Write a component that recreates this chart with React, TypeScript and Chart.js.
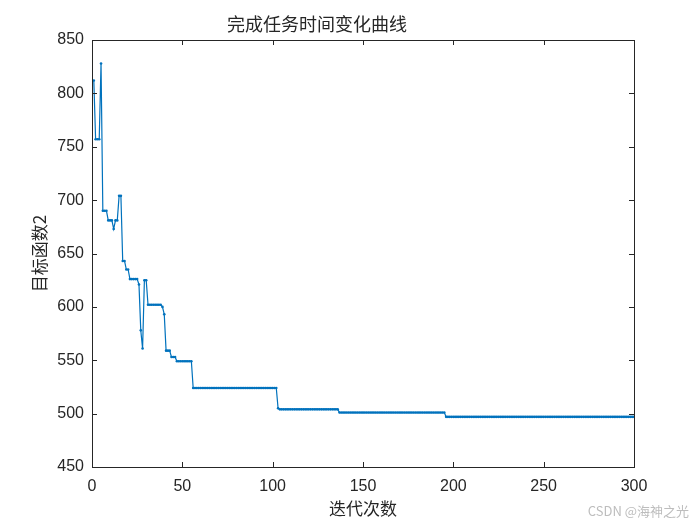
import React, { useEffect, useRef } from 'react';
import { Chart, registerables } from 'chart.js';

Chart.register(...registerables);

const titleText = '完成任务时间变化曲线';
const xLabel = '迭代次数';
const yLabel = '目标函数2';
const watermark = 'CSDN @海神之光';

const xTicks = [0, 50, 100, 150, 200, 250, 300];
const yTicks = [450, 500, 550, 600, 650, 700, 750, 800, 850];

// objective value per iteration (1..300)
const objective2 = [
    812, 757, 757, 757, 828, 690, 690, 690, 681, 681,
    681, 673, 681, 681, 704, 704, 643, 643, 635, 635,
    626, 626, 626, 626, 626, 621, 578, 561, 625, 625,
    602, 602, 602, 602, 602, 602, 602, 602, 600, 593,
    559, 559, 559, 553, 553, 553, 549, 549, 549, 549,
    549, 549, 549, 549, 549, 524, 524, 524, 524, 524,
    524, 524, 524, 524, 524, 524, 524, 524, 524, 524,
    524, 524, 524, 524, 524, 524, 524, 524, 524, 524,
    524, 524, 524, 524, 524, 524, 524, 524, 524, 524,
    524, 524, 524, 524, 524, 524, 524, 524, 524, 524,
    524, 524, 505, 504, 504, 504, 504, 504, 504, 504,
    504, 504, 504, 504, 504, 504, 504, 504, 504, 504,
    504, 504, 504, 504, 504, 504, 504, 504, 504, 504,
    504, 504, 504, 504, 504, 504, 501, 501, 501, 501,
    501, 501, 501, 501, 501, 501, 501, 501, 501, 501,
    501, 501, 501, 501, 501, 501, 501, 501, 501, 501,
    501, 501, 501, 501, 501, 501, 501, 501, 501, 501,
    501, 501, 501, 501, 501, 501, 501, 501, 501, 501,
    501, 501, 501, 501, 501, 501, 501, 501, 501, 501,
    501, 501, 501, 501, 501, 497, 497, 497, 497, 497,
    497, 497, 497, 497, 497, 497, 497, 497, 497, 497,
    497, 497, 497, 497, 497, 497, 497, 497, 497, 497,
    497, 497, 497, 497, 497, 497, 497, 497, 497, 497,
    497, 497, 497, 497, 497, 497, 497, 497, 497, 497,
    497, 497, 497, 497, 497, 497, 497, 497, 497, 497,
    497, 497, 497, 497, 497, 497, 497, 497, 497, 497,
    497, 497, 497, 497, 497, 497, 497, 497, 497, 497,
    497, 497, 497, 497, 497, 497, 497, 497, 497, 497,
    497, 497, 497, 497, 497, 497, 497, 497, 497, 497,
    497, 497, 497, 497, 497, 497, 497, 497, 497, 497,
];

const axisColor = '#262626';
const tickFont = '"Liberation Sans", Arial, sans-serif';
const cjkFont = '"Noto Sans CJK SC", sans-serif';

// matlab style box with inward ticks on all four sides
const boxPlugin = {
    id: 'matlabBox',
    afterDraw(chart: any) {
        const { ctx, chartArea } = chart;
        const { left, top, right, bottom } = chartArea;
        const len = 5;
        ctx.save();
        ctx.strokeStyle = axisColor;
        ctx.lineWidth = 1;
        ctx.strokeRect(Math.round(left) + 0.5, Math.round(top) + 0.5, Math.round(right - left), Math.round(bottom - top));
        ctx.beginPath();
        xTicks.forEach((v) => {
            const px = Math.round(chart.scales.x.getPixelForValue(v)) + 0.5;
            ctx.moveTo(px, bottom);
            ctx.lineTo(px, bottom - len);
            ctx.moveTo(px, top);
            ctx.lineTo(px, top + len);
        });
        yTicks.forEach((v) => {
            const py = Math.round(chart.scales.y.getPixelForValue(v)) + 0.5;
            ctx.moveTo(left, py);
            ctx.lineTo(left + len, py);
            ctx.moveTo(right, py);
            ctx.lineTo(right - len, py);
        });
        ctx.stroke();

        ctx.font = `13px ${cjkFont}`;
        ctx.fillStyle = '#bdbdbd';
        ctx.textAlign = 'right';
        ctx.textBaseline = 'middle';
        ctx.fillText(watermark, 689, 511);
        ctx.restore();
    },
};

const App: React.FC = () => {
    const canvasRef = useRef<HTMLCanvasElement>(null);

    useEffect(() => {
        if (!canvasRef.current) return;
        const ctx = canvasRef.current.getContext('2d');
        if (!ctx) return;

        const points = objective2.map((v, i) => ({ x: i + 1, y: v }));

        const chart = new Chart(ctx, {
            type: 'line',
            data: {
                datasets: [{
                    label: yLabel,
                    data: points,
                    borderColor: '#0072BD',
                    backgroundColor: '#0072BD',
                    borderWidth: 1.2,
                    pointRadius: 1.3,
                    pointBorderWidth: 0,
                    pointBackgroundColor: '#0072BD',
                    tension: 0,
                    fill: false,
                }]
            },
            options: {
                animation: false,
                responsive: false,
                maintainAspectRatio: false,
                devicePixelRatio: 1,
                layout: { padding: { left: 0, right: 66, top: 0, bottom: 0 } },
                plugins: {
                    legend: { display: false },
                    tooltip: { enabled: false },
                    title: {
                        display: true,
                        text: titleText,
                        color: axisColor,
                        font: { family: cjkFont, size: 18, weight: 'normal' },
                        padding: { top: 13, bottom: 5.4 },
                    },
                },
                scales: {
                    x: {
                        type: 'linear',
                        min: 0,
                        max: 300,
                        afterFit: (scale: any) => { scale.height = 58; },
                        afterBuildTicks: (scale: any) => { scale.ticks = xTicks.map((v) => ({ value: v })); },
                        grid: { display: false, drawTicks: false },
                        border: { display: false },
                        ticks: { color: axisColor, font: { family: tickFont, size: 16 }, padding: 10, maxRotation: 0 },
                        title: {
                            display: true,
                            text: xLabel,
                            color: axisColor,
                            font: { family: cjkFont, size: 17 },
                            padding: { top: 0, bottom: 5.8 },
                        },
                    },
                    y: {
                        type: 'linear',
                        min: 450,
                        max: 850,
                        afterFit: (scale: any) => { scale.width = 92; },
                        afterBuildTicks: (scale: any) => { scale.ticks = yTicks.map((v) => ({ value: v })); },
                        grid: { display: false, drawTicks: false },
                        border: { display: false },
                        ticks: { color: axisColor, font: { family: tickFont, size: 16 }, padding: 8 },
                        title: {
                            display: true,
                            text: yLabel,
                            color: axisColor,
                            font: { family: cjkFont, size: 17 },
                            padding: { top: 29.8, bottom: 0 },
                        },
                    },
                },
            },
            plugins: [boxPlugin],
        });

        return () => {
            chart.destroy();
        };
    }, []);

    return (
        <div style={{ position: 'fixed', left: 0, top: 0, width: 700, height: 525, background: '#fff' }}>
            <canvas ref={canvasRef} width={700} height={525}></canvas>
        </div>
    );
};

export default App;
